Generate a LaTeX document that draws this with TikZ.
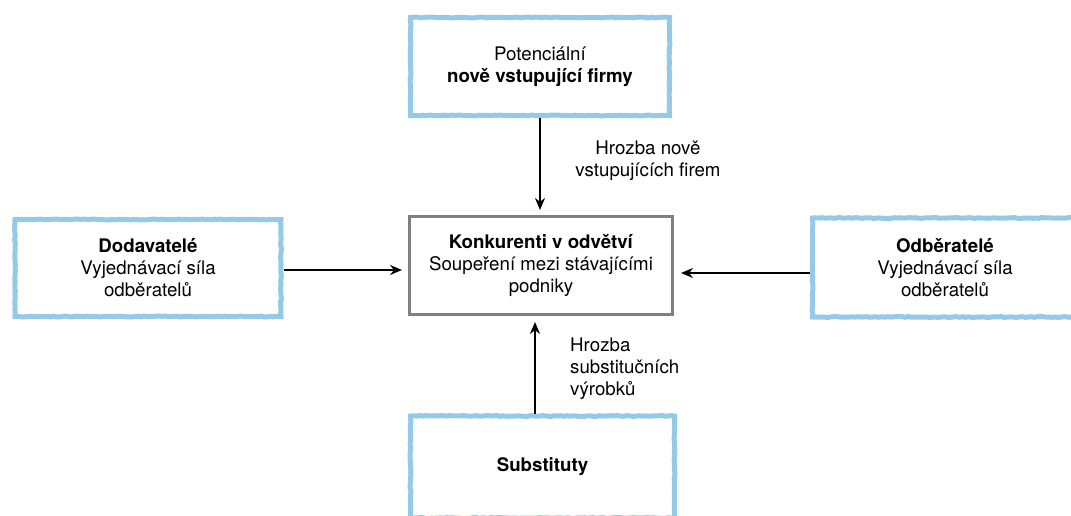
\documentclass[tikz,border=0pt]{standalone}
\usepackage{fontspec}
\setmainfont{TeX Gyre Heros}
\usetikzlibrary{arrows.meta,decorations.pathmorphing}

\definecolor{skyblue}{RGB}{148,202,232}
\definecolor{framegray}{RGB}{128,128,128}

\tikzset{
    force/.style={rectangle, draw=skyblue, line width=5pt, decorate,
        decoration={random steps, segment length=3pt, amplitude=0.4pt},
        align=center, font=\fontsize{18.7}{22}\selectfont},
    core/.style={rectangle, draw=framegray, line width=3pt,
        align=center, font=\fontsize{18.7}{22}\selectfont},
    threat/.style={inner sep=0pt, font=\fontsize{18.7}{22}\selectfont},
    arr/.style={-{Stealth[length=12pt,width=10pt]}, line width=2pt}
}

\begin{document}
\begin{tikzpicture}[x=1pt, y=-1pt]
    \useasboundingbox (0,0) rectangle (1071,516);
    \clip (0,0) rectangle (1071,516);

    % the five forces
    \node[force, minimum width=259pt, minimum height=98pt] (entrants) at (540,66.5)
        {Potenciální\\\textbf{nově vstupující firmy}};
    \node[core, minimum width=263pt, minimum height=98pt] (rivals) at (541,265.5)
        {\textbf{Konkurenti v odvětví}\\Soupeření mezi stávajícími\\podniky};
    \node[force, minimum width=266pt, minimum height=97pt] (suppliers) at (148,268)
        {\textbf{Dodavatelé}\\Vyjednávací síla\\odběratelů};
    \node[force, minimum width=265pt, minimum height=99pt] (buyers) at (945,267.5)
        {\textbf{Odběratelé}\\Vyjednávací síla\\odběratelů};
    \node[force, minimum width=264pt, minimum height=102pt] (substitutes) at (542.5,467)
        {\textbf{Substituty}};

    % threats
    \node[threat, align=center] (newthreat) at (648,161)
        {Hrozba nově\\vstupujících firem};
    \node[threat, align=left, anchor=west] (subthreat) at (570,369)
        {Hrozba\\substitučních\\výrobků};

    \draw[arr, shorten >=5pt] (entrants.south) -- (entrants.south |- rivals.north);
    \draw[arr, shorten >=6pt] ([xshift=-7.5pt]substitutes.north)
        -- ([xshift=-7.5pt]substitutes.north |- rivals.south);
    \draw[arr, shorten >=6pt] ([yshift=-2pt]suppliers.east)
        -- ([yshift=-2pt]suppliers.east -| rivals.west);
    \draw[arr, shorten >=7pt] ([yshift=-5.5pt]buyers.west)
        -- ([yshift=-5.5pt]buyers.west -| rivals.east);
\end{tikzpicture}
\end{document}
